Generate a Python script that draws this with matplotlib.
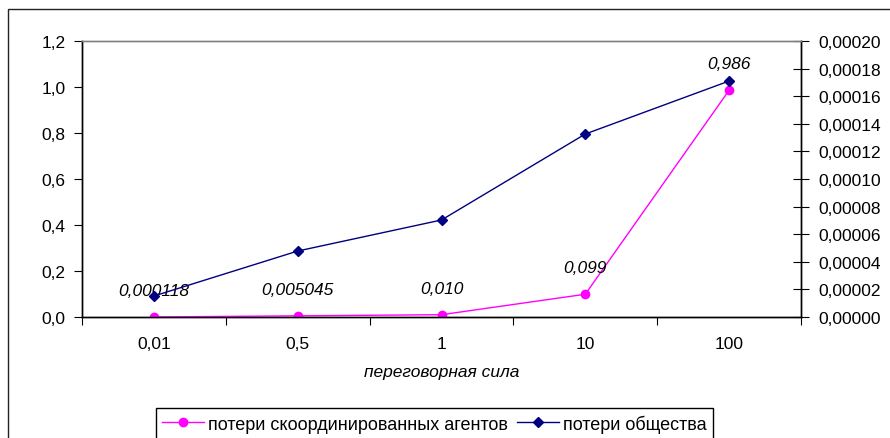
import matplotlib
matplotlib.use("Agg")
import matplotlib.pyplot as plt
from matplotlib.ticker import FixedLocator, FuncFormatter, NullFormatter
from matplotlib.patches import Rectangle
from matplotlib.lines import Line2D

plt.rcParams['font.family'] = ['Liberation Sans', 'DejaVu Sans']

# Data
categories = ['0,01', '0,5', '1', '10', '100']
agents_loss = [0.000118, 0.005045, 0.010, 0.099, 0.986]
agents_labels = ['0,000118', '0,005045', '0,010', '0,099', '0,986']
society_loss = [0.0000152, 0.0000478, 0.0000703, 0.0001326, 0.000171]
left_ticks = [0.0, 0.2, 0.4, 0.6, 0.8, 1.0, 1.2]
right_ticks = [0.0, 0.00002, 0.00004, 0.00006, 0.00008, 0.00010,
               0.00012, 0.00014, 0.00016, 0.00018, 0.00020]

MAGENTA = '#FF00FF'
NAVY = '#000080'
FS = 12.5
FS_LEG = 13

W, H = 890, 439
fig = plt.figure(figsize=(W / 100, H / 100), dpi=100)

# Outer frame of the chart area
fig.patches.append(Rectangle((8 / W, -0.5), 2.0, 0.5 + (1 - 10 / H),
                             transform=fig.transFigure, fill=False,
                             edgecolor='#222222', linewidth=1.0))

left, right, bottom, top = 82 / W, 801 / W, 1 - 318 / H, 1 - 42 / H
ax = fig.add_axes([left, bottom, right - left, top - bottom])
ax2 = ax.twinx()

x = list(range(len(categories)))

ax.plot(x, agents_loss, color=MAGENTA, linewidth=1.0, marker='o',
        markersize=6, zorder=3)
ax2.plot(x, society_loss, color=NAVY, linewidth=1.0, marker='D',
         markersize=5.5, zorder=3)

ax.set_xlim(-0.5, len(categories) - 0.5)
ax.set_ylim(0, 1.2)
ax2.set_ylim(0, 0.0002)

# Value labels for the agents' losses
for xi, yi, lab in zip(x, agents_loss, agents_labels):
    ax.annotate(lab, (xi, yi), xytext=(0, 19), textcoords='offset points',
                ha='center', va='center', fontsize=FS, style='italic',
                zorder=5)

# Category axis: labels at category centres, tick marks between them
ax.xaxis.set_major_locator(FixedLocator(x))
ax.set_xticklabels(categories, fontsize=FS)
ax.tick_params(axis='x', which='major', length=0, pad=14)
ax.xaxis.set_minor_locator(FixedLocator([i - 0.5 for i in range(len(categories) + 1)]))
ax.xaxis.set_minor_formatter(NullFormatter())
ax.tick_params(axis='x', which='minor', length=6, direction='out', width=0.8)

ax.yaxis.set_major_locator(FixedLocator(left_ticks))
ax.yaxis.set_major_formatter(FuncFormatter(lambda v, p: f'{v:.1f}'.replace('.', ',')))
ax.tick_params(axis='y', length=6, direction='out', width=0.8, labelsize=FS, pad=6)

ax2.yaxis.set_major_locator(FixedLocator(right_ticks))
ax2.yaxis.set_major_formatter(FuncFormatter(lambda v, p: f'{v:.5f}'.replace('.', ',')))
ax2.tick_params(axis='y', length=11, direction='inout', width=0.8, labelsize=FS, pad=7)

for a in (ax, ax2):
    a.spines['top'].set_color('#808080')
    a.spines['top'].set_linewidth(1.0)
    for s in ('left', 'bottom', 'right'):
        a.spines[s].set_color('black')
        a.spines[s].set_linewidth(1.0)

ax.set_xlabel('переговорная сила', fontsize=FS, style='italic', labelpad=9)

handles = [
    Line2D([], [], color=MAGENTA, linewidth=1.0, marker='o', markersize=6),
    Line2D([], [], color=NAVY, linewidth=1.0, marker='D', markersize=5.5),
]
labels = ['потери скоординированных агентов', 'потери общества']
leg = fig.legend(handles, labels, loc='upper left',
                 bbox_to_anchor=(156 / W, 1 - 409 / H), ncol=2,
                 fontsize=FS_LEG, frameon=True, fancybox=False, framealpha=1,
                 edgecolor='black', handlelength=2.3, handletextpad=0.23,
                 columnspacing=0.5, borderpad=0.35, borderaxespad=0)
leg.get_frame().set_linewidth(1.0)

fig.savefig('out.png', dpi=100)
